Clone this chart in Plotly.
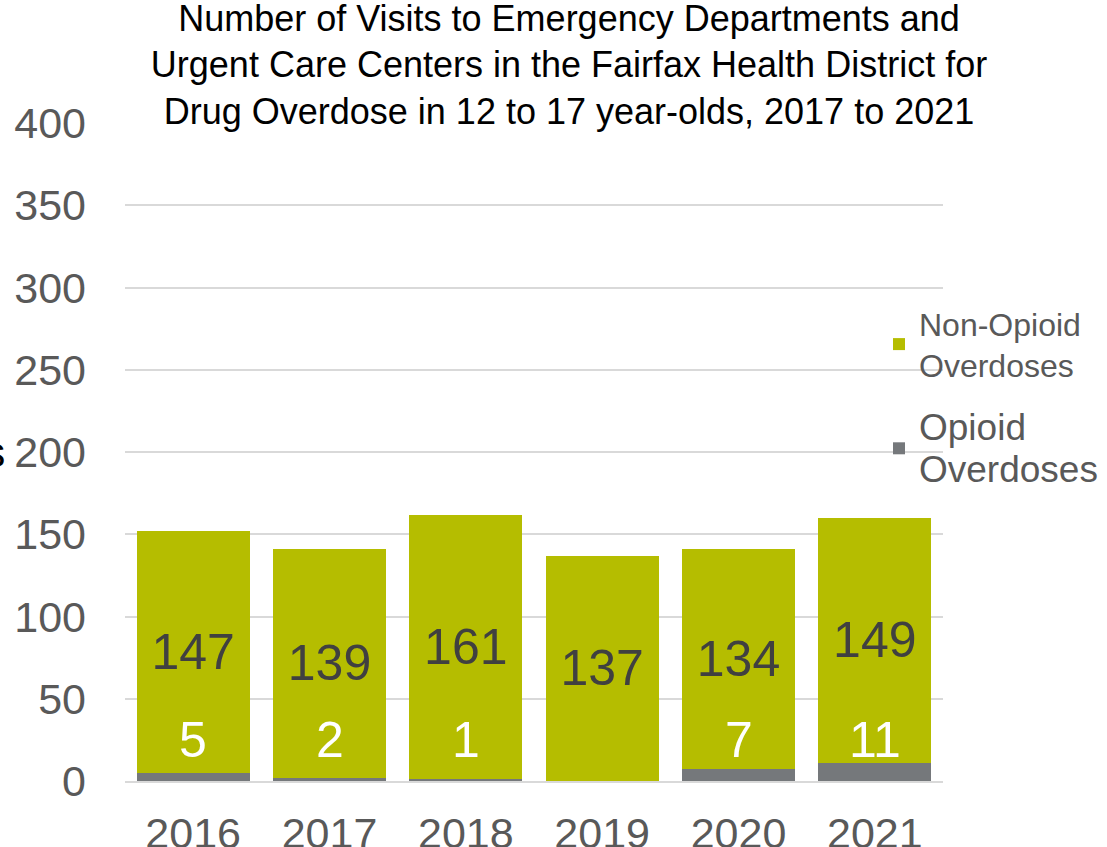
import plotly.graph_objects as go

years = ["2016", "2017", "2018", "2019", "2020", "2021"]
opioid = [5, 2, 1, 0, 7, 11]
non_opioid = [147, 139, 161, 137, 134, 149]
y_ticks = [0, 50, 100, 150, 200, 250, 300, 350, 400]

GREEN = "#B5BD00"
GRAY = "#75787B"
FONT = "Liberation Sans, Arial, sans-serif"

fig = go.Figure()
fig.add_trace(go.Bar(
    x=years, y=opioid, name='<span style="font-size:37px">Opioid<br>Overdoses</span>',
    marker=dict(color=GRAY, line=dict(width=0)), legendgroup="b", legendrank=2,
    hoverinfo="skip",
))
fig.add_trace(go.Bar(
    x=years, y=non_opioid, name="Non-Opioid<br>Overdoses",
    marker=dict(color=GREEN, line=dict(width=0)), legendgroup="a", legendrank=1,
    text=[str(v) for v in non_opioid], textposition="inside",
    insidetextanchor="middle", textangle=0,
    textfont=dict(size=50, color="#404040", family=FONT),
    hoverinfo="skip",
))

# white opioid value labels above the opioid segment (x as category index)
for i, v in enumerate(opioid):
    if v > 0:
        fig.add_annotation(x=i, y=25, text=str(v), showarrow=False,
                           font=dict(size=50, color="white", family=FONT),
                           xref="x", yref="y", yanchor="middle")

# cropped y-axis title at far left
fig.add_annotation(xref="paper", yref="y", x=(7 - 125) / 818, y=200,
                   xanchor="right", yanchor="middle", showarrow=False,
                   text="Number of Visits",
                   font=dict(size=42, color="black", family=FONT))

fig.update_layout(
    width=1107, height=847,
    barmode="stack", bargap=0.17,
    plot_bgcolor="white", paper_bgcolor="white",
    margin=dict(l=125, r=164, t=123, b=66, autoexpand=False),
    font=dict(family=FONT, color="#595959"),
    title=dict(
        text="Number of Visits to Emergency Departments and<br>Urgent Care Centers in the Fairfax Health District for<br>Drug Overdose in 12 to 17 year-olds, 2017 to 2021",
        x=(569 - 125) / 818, xref="paper", xanchor="center",
        y=0.964, yref="container", yanchor="top",
        font=dict(size=36, color="black", family=FONT),
    ),
    legend=dict(
        x=(879 - 125) / 818, xanchor="left", xref="paper",
        y=(781 - 296) / 658, yanchor="top", yref="paper",
        traceorder="grouped", tracegroupgap=18,
        bgcolor="rgba(0,0,0,0)",
        font=dict(size=32, color="#595959", family=FONT),
        itemwidth=30,
    ),
    showlegend=True,
)
fig.update_xaxes(
    type="category", range=[-0.5, 5.5],
    showgrid=False, showline=True, linecolor="#D9D9D9", linewidth=2,
    ticks="", tickfont=dict(size=43, color="#595959", family=FONT),
    ticklabelstandoff=13,
)
fig.update_yaxes(
    range=[0, 400], tickvals=y_ticks, showgrid=True, gridcolor="#D9D9D9",
    gridwidth=2, zeroline=False, showline=False, ticks="",
    tickfont=dict(size=43, color="#595959", family=FONT),
    ticklabelstandoff=38,
)

fig.write_html("out.html")
